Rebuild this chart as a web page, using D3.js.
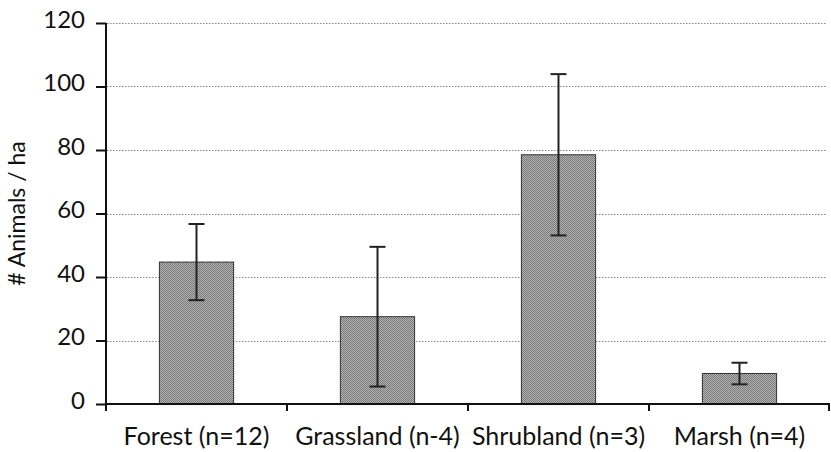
<!DOCTYPE html>
<html>
<head>
<meta charset="utf-8">
<script src="https://cdn.jsdelivr.net/npm/d3@7"></script>
<style>
  html, body { margin: 0; padding: 0; background: #fff; }
  svg { display: block; }
  text { font-family: Lato, "Open Sans", sans-serif; fill: #111; }
</style>
</head>
<body>
<svg id="chart" width="831" height="452"></svg>
<script>
// Habitat categories, mean density and the half-width of each error bar
const categories = ["Forest (n=12)", "Grassland (n-4)", "Shrubland (n=3)", "Marsh (n=4)"];
const means = [44.7, 27.5, 78.5, 9.6];
const errors = [12.0, 22.0, 25.4, 3.4];
const yTicks = [0, 20, 40, 60, 80, 100, 120];

const svg = d3.select("#chart");
const margin = { left: 106, right: 1, top: 23, bottom: 48 };
const W = 831, H = 452;

const x = d3.scaleBand()
  .domain(categories)
  .range([margin.left, W - margin.right])
  .paddingInner(0.59)
  .paddingOuter(0.295);

const xBand = d3.scaleBand()
  .domain(categories)
  .range([margin.left, W - margin.right]);

const y = d3.scaleLinear()
  .domain([0, 120])
  .range([H - margin.bottom, margin.top]);

// Stippled grey fill for the bars
const defs = svg.append("defs");
const pat = defs.append("pattern")
  .attr("id", "stipple")
  .attr("patternUnits", "userSpaceOnUse")
  .attr("width", 2).attr("height", 2);
pat.append("rect").attr("width", 2).attr("height", 2).attr("fill", "#b2b2b2");
pat.append("rect").attr("width", 1).attr("height", 1).attr("fill", "#7a7a7a");
pat.append("rect").attr("x", 1).attr("y", 1).attr("width", 1).attr("height", 1).attr("fill", "#7a7a7a");

// Dotted horizontal gridlines
svg.append("g")
  .selectAll("line")
  .data(yTicks.filter(d => d > 0))
  .join("line")
  .attr("x1", margin.left + 1)
  .attr("x2", W - 5)
  .attr("y1", d => Math.round(y(d)) + 0.5)
  .attr("y2", d => Math.round(y(d)) + 0.5)
  .attr("stroke", "#8a8a8a")
  .attr("stroke-width", 1)
  .attr("stroke-dasharray", "1.5,1.5");

// Bars
svg.append("g")
  .selectAll("rect")
  .data(categories)
  .join("rect")
  .attr("x", d => x(d))
  .attr("width", x.bandwidth())
  .attr("y", (d, i) => y(means[i]))
  .attr("height", (d, i) => y(0) - y(means[i]))
  .attr("fill", "url(#stipple)")
  .attr("stroke", "#333")
  .attr("stroke-width", 1);

// Error bars
const eb = svg.append("g")
  .attr("stroke", "#222")
  .attr("stroke-width", 2)
  .selectAll("g")
  .data(categories)
  .join("g");
const cx = d => x(d) + x.bandwidth() / 2;
eb.append("line")
  .attr("x1", cx).attr("x2", cx)
  .attr("y1", (d, i) => y(means[i] + errors[i]))
  .attr("y2", (d, i) => y(means[i] - errors[i]));
[1, -1].forEach(s => {
  eb.append("line")
    .attr("x1", d => cx(d) - 8).attr("x2", d => cx(d) + 8)
    .attr("y1", (d, i) => y(means[i] + s * errors[i]))
    .attr("y2", (d, i) => y(means[i] + s * errors[i]));
});

// Y axis
const yAxis = svg.append("g")
  .attr("transform", `translate(${margin.left},0)`)
  .call(d3.axisLeft(y).tickValues(yTicks).tickSize(10).tickPadding(11).tickFormat(d3.format("d")));
yAxis.select(".domain").attr("stroke", "#111").attr("stroke-width", 2).attr("d", `M0,${y(0)}V${y(120)}`);
yAxis.selectAll(".tick line").attr("stroke", "#111").attr("stroke-width", 2);
yAxis.selectAll(".tick text")
  .attr("font-size", 24)
  .attr("font-family", "Lato, sans-serif")
  .attr("fill", "#111")
  .attr("dy", "0.17em");

// X axis with ticks at the category boundaries
const xg = svg.append("g");
xg.append("line")
  .attr("x1", margin.left).attr("x2", W - margin.right)
  .attr("y1", y(0)).attr("y2", y(0))
  .attr("stroke", "#111").attr("stroke-width", 2);
const bounds = categories.map(c => xBand(c)).concat([xBand.range()[1] - 1]);
xg.selectAll("line.tk")
  .data(bounds)
  .join("line")
  .attr("class", "tk")
  .attr("x1", d => d).attr("x2", d => d)
  .attr("y1", y(0)).attr("y2", y(0) + 7)
  .attr("stroke", "#111").attr("stroke-width", 2);
xg.selectAll("text")
  .data(categories)
  .join("text")
  .attr("x", d => xBand(d) + xBand.bandwidth() / 2)
  .attr("y", 445)
  .attr("text-anchor", "middle")
  .attr("font-size", 25)
  .text(d => d);

// Y axis title
svg.append("text")
  .attr("transform", `translate(25,${(y(0) + y(120)) / 2}) rotate(-90)`)
  .attr("text-anchor", "middle")
  .attr("font-size", 23)
  .text("# Animals / ha");
</script>
</body>
</html>
